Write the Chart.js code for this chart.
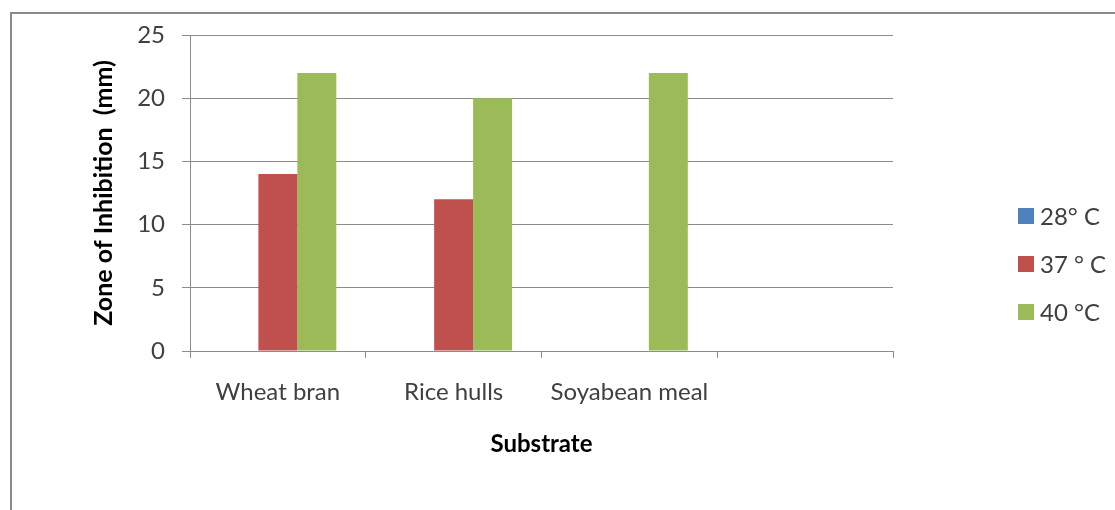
<!DOCTYPE html>
<html>
<head>
<meta charset="utf-8">
<script src="https://cdn.jsdelivr.net/npm/chart.js@4"></script>
<style>
  html, body { margin: 0; padding: 0; background: #fff; }
  #wrap { width: 1115px; height: 510px; }
</style>
</head>
<body>
<div id="wrap"><canvas id="zoneChart" width="1115" height="510"></canvas></div>
<script>
const substrates = ['Wheat bran', 'Rice hulls', 'Soyabean meal', ''];
const temp28 = [0, 0, 0, null];
const temp37 = [14, 12, 0, null];
const temp40 = [22, 20, 22, null];
const seriesLabels = ['28° C', '37 ° C', '40 °C'];
const yTicks = [0, 5, 10, 15, 20, 25];

const gridGray = '#8c8c8c';
const textGray = '#404040';
const fontFamily = 'Lato, Carlito, Calibri, sans-serif';

// page frame like the pasted Excel chart
const framePlugin = {
    id: 'frame',
    beforeDraw(chart) {
        const c = chart.ctx;
        c.save();
        c.strokeStyle = '#8a8a8a';
        c.lineWidth = 2;
        c.strokeRect(11, 13, 1200, 600);
        c.restore();
    }
};

// legend to the right, Excel style
const sideLegend = {
    id: 'sideLegend',
    afterDraw(chart) {
        const c = chart.ctx;
        c.save();
        c.font = '24px ' + fontFamily;
        c.textBaseline = 'middle';
        chart.data.datasets.forEach((ds, i) => {
            const y = 216 + i * 48;
            c.fillStyle = ds.backgroundColor;
            c.fillRect(1018, y - 8, 16, 16);
            c.fillStyle = textGray;
            c.fillText(ds.label, 1040, y + 1);
        });
        c.restore();
    }
};

const ctx = document.getElementById('zoneChart').getContext('2d');
new Chart(ctx, {
    type: 'bar',
    data: {
        labels: substrates,
        datasets: [
            { label: seriesLabels[0], data: temp28, backgroundColor: '#4f81bd' },
            { label: seriesLabels[1], data: temp37, backgroundColor: '#c0504d' },
            { label: seriesLabels[2], data: temp40, backgroundColor: '#9bbb59' }
        ]
    },
    options: {
        responsive: false,
        animation: false,
        layout: { padding: { left: 0, right: 222, top: 35, bottom: 0 } },
        datasets: {
            bar: { categoryPercentage: 0.665, barPercentage: 1.0 }
        },
        plugins: {
            legend: { display: false },
            tooltip: { enabled: false }
        },
        scales: {
            x: {
                grid: { drawOnChartArea: false, drawTicks: true, tickLength: 7, color: gridGray, offset: true },
                border: { color: gridGray, width: 1 },
                ticks: { color: textGray, font: { family: fontFamily, size: 24 }, padding: 20, maxRotation: 0 },
                title: {
                    display: true, text: 'Substrate', color: '#000',
                    font: { family: fontFamily, size: 24, weight: 'bold' },
                    padding: { top: 0, bottom: 51 }
                },
                afterFit(scale) { scale.height = 159; }
            },
            y: {
                min: 0,
                max: 25,
                afterBuildTicks(scale) { scale.ticks = yTicks.map(v => ({ value: v })); },
                grid: { color: gridGray, tickLength: 8 },
                border: { color: gridGray, width: 1 },
                ticks: { color: textGray, font: { family: fontFamily, size: 24 }, padding: 17 },
                title: {
                    display: true, text: 'Zone of Inhibition  (mm)', color: '#000',
                    font: { family: fontFamily, size: 25, weight: 'bold' },
                    padding: { top: 89, bottom: 0 }
                },
                afterFit(scale) { scale.width = 190; }
            }
        }
    },
    plugins: [framePlugin, sideLegend]
});
</script>
</body>
</html>
